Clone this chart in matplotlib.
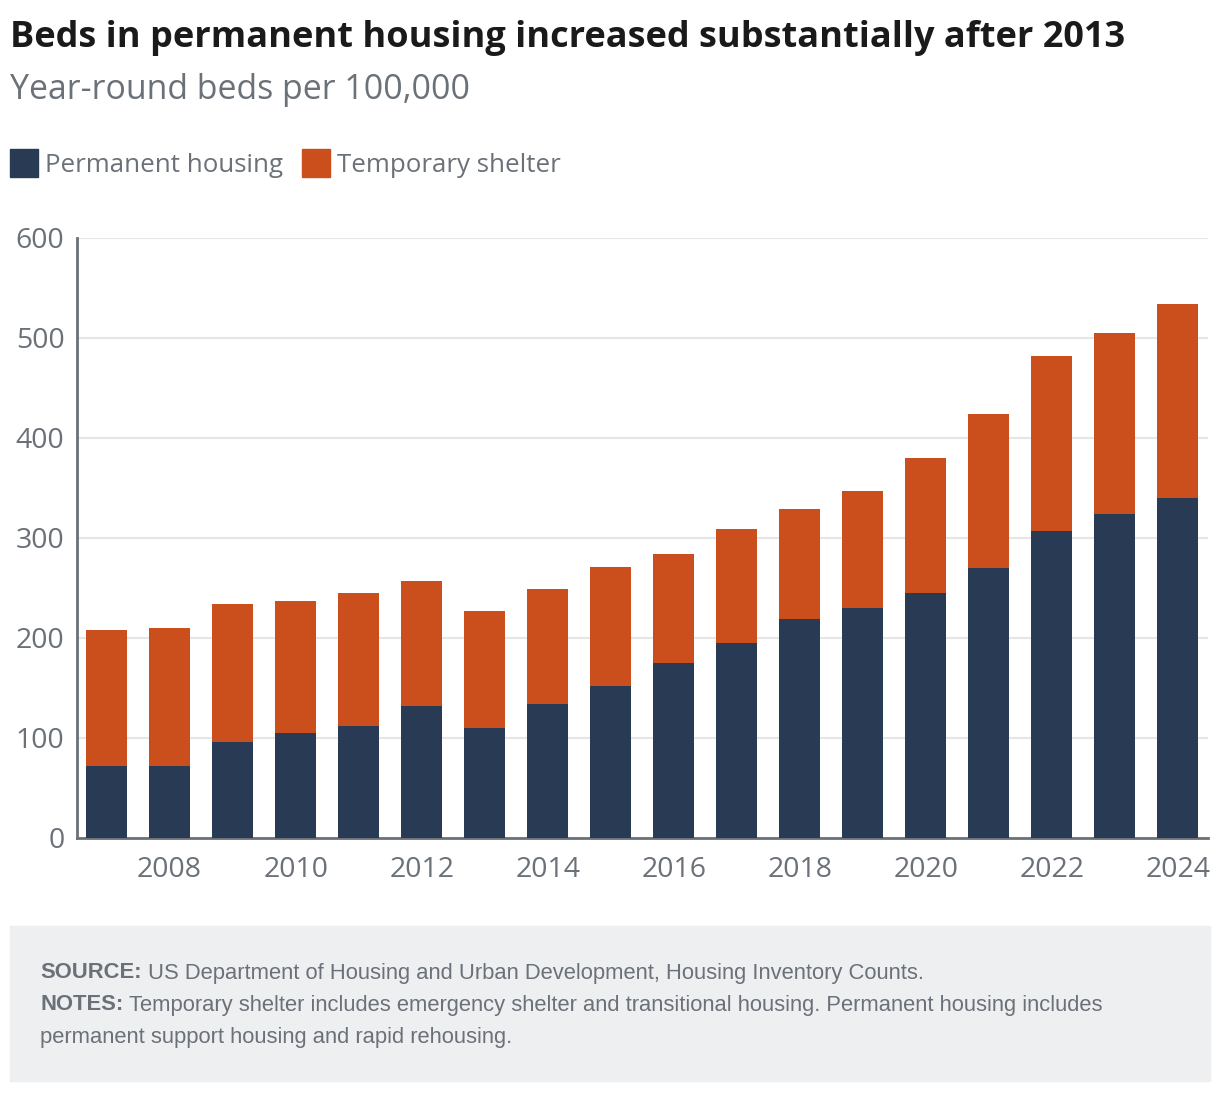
import matplotlib.pyplot as plt
from matplotlib.patches import Rectangle

# data (year-round beds per 100,000)
years = list(range(2007, 2025))
permanent = [72.5, 72.5, 96.5, 105.5, 112.5, 132, 110, 134.5, 152,
             174.7, 194.7, 218.7, 229.7, 244.7, 269.7, 306.7, 323.7, 339.7]
total = [208.5, 210.5, 234, 237, 245.5, 257, 227.5, 249.5, 271,
         283.7, 308.7, 328.7, 346.7, 379.7, 423.7, 481.7, 504.7, 533.7]
temporary = [t - p for t, p in zip(total, permanent)]
xtick_years = list(range(2008, 2025, 2))
yticks = [0, 100, 200, 300, 400, 500, 600]

NAVY = "#293a54"
ORANGE = "#cb4f1c"
GRAY = "#6b7179"
W, H = 1220, 1094

plt.rcParams['font.family'] = ['Open Sans', 'DejaVu Sans']

fig = plt.figure(figsize=(W / 100, H / 100), dpi=100)

def fx(px):
    return px / W

def fy(py):
    return 1 - py / H

ax = fig.add_axes([fx(77), fy(838), fx(1208) - fx(77), fy(238) - fy(838)])
ax.bar(years, permanent, width=0.65, color=NAVY, zorder=3)
ax.bar(years, temporary, width=0.65, bottom=permanent, color=ORANGE, zorder=3)

ax.set_xlim(2006.53, 2024.48)
ax.set_ylim(0, 600)
ax.set_yticks(yticks)
ax.set_xticks(xtick_years)
ax.yaxis.grid(True, color="#e6e6e6", linewidth=1.5, zorder=0)
for s in ["top", "right"]:
    ax.spines[s].set_visible(False)
for s in ["left", "bottom"]:
    ax.spines[s].set_color(GRAY)
    ax.spines[s].set_linewidth(2)
ax.tick_params(axis="both", length=0, labelsize=20.5, labelcolor=GRAY)
ax.tick_params(axis="y", pad=9)
ax.tick_params(axis="x", pad=13)

# title and subtitle
fig.text(fx(10), fy(38), "Beds in permanent housing increased substantially after 2013",
         fontsize=26, fontweight="bold", color="#1a1a1a", va="center", ha="left")
fig.text(fx(10), fy(90), "Year-round beds per 100,000",
         fontsize=24.4, color=GRAY, va="center", ha="left")

# legend
for x0, col, lab in [(10, NAVY, "Permanent housing"), (302, ORANGE, "Temporary shelter")]:
    fig.patches.append(Rectangle((fx(x0), fy(177)), fx(28), 28 / H,
                                 transform=fig.transFigure, color=col))
    fig.text(fx(x0 + 35), fy(165), lab, fontsize=18.6, color=GRAY, va="center", ha="left")

# footer box
fig.patches.append(Rectangle((fx(10), fy(1081)), fx(1200), (1081 - 926) / H,
                             transform=fig.transFigure, color="#eeeff1", zorder=0))
foot = dict(fontsize=15.8, color=GRAY, va="center", ha="left", family="Liberation Sans")
t = fig.text(fx(40), fy(973), "SOURCE:", fontweight="bold", **foot)
fig.canvas.draw()
bb = t.get_window_extent()
fig.text(fx(bb.x1 + 6), fy(973), "US Department of Housing and Urban Development, Housing Inventory Counts.", **foot)
t2 = fig.text(fx(40), fy(1005), "NOTES:", fontweight="bold", **foot)
fig.canvas.draw()
bb2 = t2.get_window_extent()
fig.text(fx(bb2.x1 + 6), fy(1005),
         "Temporary shelter includes emergency shelter and transitional housing. Permanent housing includes", **foot)
fig.text(fx(40), fy(1037), "permanent support housing and rapid rehousing.", **foot)

fig.savefig("out.png", dpi=100)
